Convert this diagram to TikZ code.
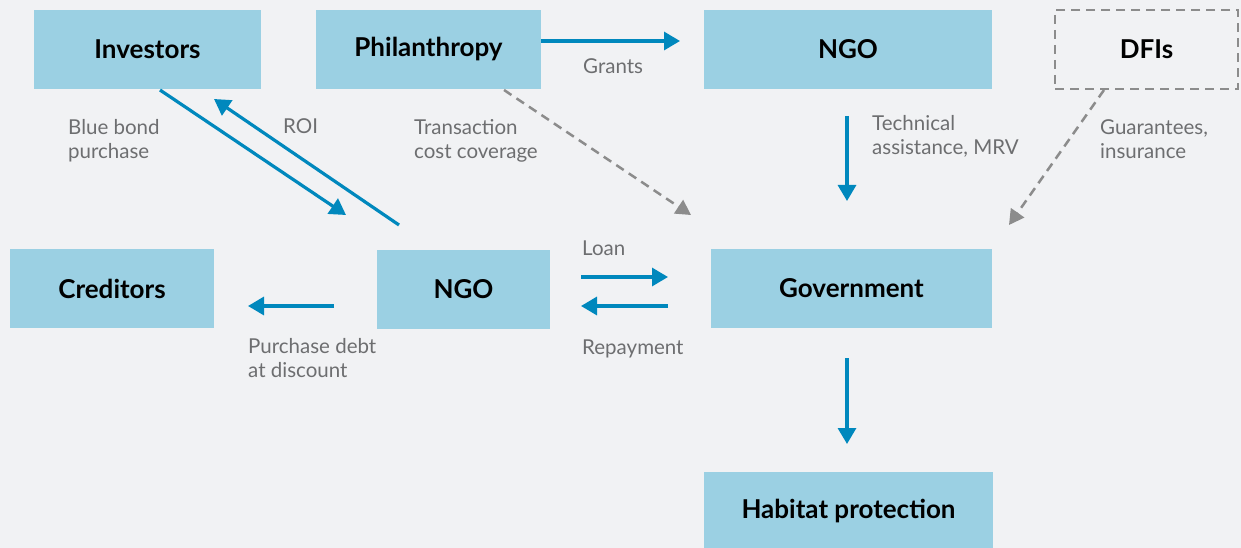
\documentclass[tikz,border=0pt]{standalone}
\usepackage{fontspec}
\setmainfont{Lato}
\usetikzlibrary{arrows.meta}
\definecolor{bg}{HTML}{F1F2F4}
\definecolor{boxblue}{HTML}{9BD0E3}
\definecolor{flowblue}{HTML}{0088BD}
\definecolor{dashgray}{HTML}{8C8C8C}
\definecolor{labelgray}{HTML}{6D6E70}
\begin{document}
\begin{tikzpicture}[x=1pt,y=-1pt,
  entity/.style={fill=boxblue, draw=none, inner sep=0pt, minimum height=79pt,
    font=\bfseries\fontsize{26}{31}\selectfont, text=black},
  outside/.style={fill=none, draw=dashgray, line width=2.5pt, dash pattern=on 9pt off 6pt,
    inner sep=0pt, minimum height=79pt, font=\bfseries\fontsize{26}{31}\selectfont, text=black},
  flow/.style={draw=flowblue, line width=3.2pt, -{Triangle[length=16pt,width=18pt]}},
  support/.style={draw=dashgray, line width=2.5pt, dash pattern=on 9pt off 6pt,
    -{Triangle[length=15pt,width=16pt]}},
  lbl/.style={anchor=base west, align=left, inner sep=0pt, text=labelgray,
    font=\fontsize{20.5}{24}\selectfont}]

\useasboundingbox[fill=bg] (0,0) rectangle (1241,548);

% actors
\node[entity, minimum width=227pt] (inv)  at (147.5,49.5) {Investors};
\node[entity, minimum width=225pt] (phil) at (428.5,49.5) {Philanthropy};
\node[entity, minimum width=288pt] (ngoT) at (848,49.5)   {NGO};
\node[outside, minimum width=183pt] (dfi) at (1146.5,49.5) {DFIs};
\node[entity, minimum width=204pt] (cred) at (112,288.5)  {Creditors};
\node[entity, minimum width=173pt] (ngoM) at (463.5,289.5) {NGO};
\node[entity, minimum width=281pt] (gov)  at (851.5,288.5) {Government};
\node[entity, minimum width=289pt] (hab)  at (848.5,511) {Habitat protection};

% connector ends
\coordinate (bondA) at (160,90);   \coordinate (bondB) at (346,215);
\coordinate (roiA)  at (399,225);  \coordinate (roiB)  at (214,99);
\coordinate (grB)   at (680,41);
\coordinate (tcA)   at (504,90);   \coordinate (tcB)   at (691,215);
\coordinate (taA)   at (847,116);  \coordinate (taB)   at (847,201);
\coordinate (guA)   at (1104,90);  \coordinate (guB)   at (1009,225);
\coordinate (pdA)   at (334,306);  \coordinate (pdB)   at (248,306);
\coordinate (lnA)   at (581,277);  \coordinate (lnB)   at (668,277);
\coordinate (rpA)   at (668,306);  \coordinate (rpB)   at (581,306);
\coordinate (hpA)   at (847,358);  \coordinate (hpB)   at (847,444);

% flows
\draw[flow] (bondA) -- (bondB);
\draw[flow] (roiA) -- (roiB);
\draw[flow] (phil.east |- grB) -- (grB);
\draw[support] (tcA) -- (tcB);
\draw[flow] (taA) -- (taB);
\draw[support] (guA) -- (guB);
\draw[flow] (pdA) -- (pdB);
\draw[flow] (lnA) -- (lnB);
\draw[flow] (rpA) -- (rpB);
\draw[flow] (hpA) -- (hpB);

% labels (anchored at the baseline of their last line)
\node[lbl] (lbond) at (68,159)   {Blue bond\\purchase};
\node[lbl] (lroi)  at (283,134)  {ROI};
\node[lbl] (ltc)   at (414,159)  {Transaction\\cost coverage};
\node[lbl] (lgr)   at (583,74)   {Grants};
\node[lbl] (lta)   at (872,155)  {Technical\\assistance, MRV};
\node[lbl] (lgu)   at (1100,159) {Guarantees,\\insurance};
\node[lbl] (lln)   at (582,255)  {Loan};
\node[lbl] (lpd)   at (248,377)  {Purchase debt\\at discount};
\node[lbl] (lrp)   at (582,354)  {Repayment};
\end{tikzpicture}
\end{document}
